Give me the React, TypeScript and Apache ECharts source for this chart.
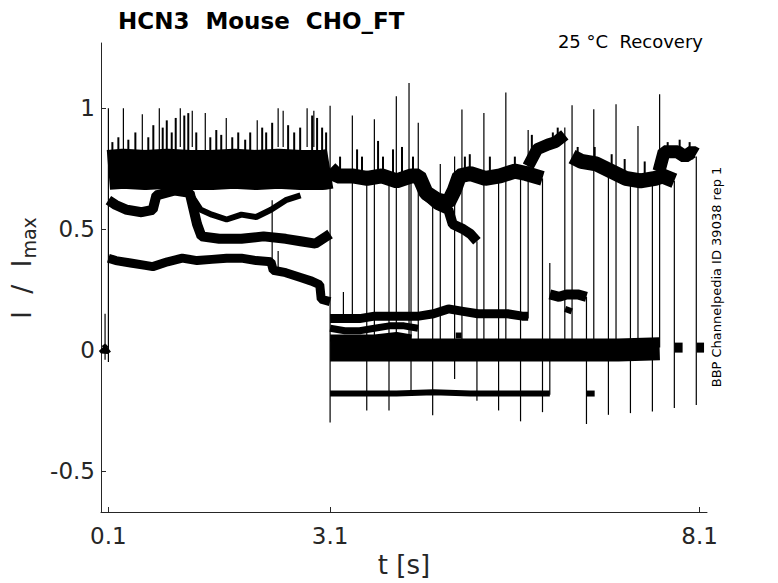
import React, { useEffect, useRef } from "react";
import * as echarts from "echarts";

// ---------- text ----------
const titleText = "HCN3  Mouse  CHO_FT";
const conditionText = "25 °C  Recovery";
const sideText = "BBP Channelpedia ID 39038 rep 1";
const xName = "t [s]";
const yNameMain = "I  /  I";
const yNameSub = "max";

// ---------- ticks ----------
const xTicks = [0.1, 3.1, 8.1];
const yTicks = [-0.5, 0, 0.5, 1];

// ---------- traces [t, I/Imax] ----------
const preBaseline = [[0.02, 0.01], [0.05, 0.0], [0.095, 0.01]];

const band1Core = [
  [0.1, 0.745], [0.3, 0.75], [0.6, 0.745], [0.9, 0.75], [1.2, 0.745], [1.5, 0.745],
  [1.8, 0.75], [2.1, 0.745], [2.4, 0.75], [2.7, 0.745], [3.0, 0.745], [3.1, 0.75],
];
const traceB = [
  [0.1, 0.62], [0.2, 0.6], [0.35, 0.58], [0.55, 0.57], [0.7, 0.58], [0.75, 0.64],
  [1.0, 0.66], [1.2, 0.65], [1.3, 0.52], [1.36, 0.47], [1.6, 0.46], [1.9, 0.46],
  [2.2, 0.47], [2.5, 0.46], [2.7, 0.45], [2.9, 0.44], [3.05, 0.47], [3.1, 0.48],
];
const traceC = [
  [1.2, 0.65], [1.35, 0.58], [1.5, 0.56], [1.7, 0.54], [1.9, 0.56], [2.1, 0.55],
  [2.3, 0.58], [2.5, 0.62], [2.7, 0.64],
];
const traceD = [
  [0.1, 0.38], [0.2, 0.37], [0.4, 0.36], [0.6, 0.35], [0.7, 0.345], [0.9, 0.365],
  [1.1, 0.38], [1.3, 0.37], [1.5, 0.375], [1.7, 0.38], [1.9, 0.38], [2.1, 0.37],
  [2.3, 0.365], [2.33, 0.33], [2.5, 0.32], [2.7, 0.3], [2.85, 0.285], [2.96, 0.27],
  [2.98, 0.21], [3.1, 0.2],
];

const upper1 = [
  [3.1, 0.75], [3.2, 0.72], [3.4, 0.72], [3.6, 0.71], [3.8, 0.72], [4.0, 0.7],
  [4.2, 0.72], [4.3, 0.72], [4.4, 0.65], [4.55, 0.62], [4.7, 0.61], [4.78, 0.66],
  [4.85, 0.72], [5.0, 0.73], [5.2, 0.71], [5.4, 0.72], [5.6, 0.74], [5.75, 0.73],
  [5.974, 0.71],
];
const upper2 = [
  [4.4, 0.64], [4.55, 0.6], [4.7, 0.58], [4.76, 0.52], [4.9, 0.5], [5.0, 0.48], [5.087, 0.45],
];
const upper3 = [[5.78, 0.76], [5.9, 0.83], [6.05, 0.85], [6.15, 0.86], [6.276, 0.89]];
const upper4 = [
  [6.374, 0.8], [6.5, 0.78], [6.7, 0.77], [6.9, 0.74], [7.1, 0.71], [7.3, 0.7],
  [7.5, 0.71], [7.6, 0.72], [7.758, 0.7],
];
const upper5 = [[7.55, 0.74], [7.62, 0.82], [7.8, 0.82], [7.9, 0.8], [8.0, 0.82], [8.055, 0.81]];

const level15 = [
  [3.1, 0.13], [3.3, 0.13], [3.5, 0.13], [3.7, 0.14], [3.9, 0.14], [4.1, 0.14],
  [4.3, 0.14], [4.5, 0.15], [4.7, 0.17], [4.9, 0.16], [5.1, 0.15], [5.3, 0.15],
  [5.5, 0.15], [5.7, 0.14], [5.78, 0.14],
];
const level09 = [[3.1, 0.09], [3.3, 0.08], [3.5, 0.08], [3.7, 0.09], [3.9, 0.1], [4.1, 0.1], [4.29, 0.09]];
const level05 = [[3.1, 0.05], [3.4, 0.05], [3.7, 0.05], [4.0, 0.06], [4.2, 0.05]];
const level05b = [[4.8, 0.06], [4.88, 0.06]];
const level00 = [
  [3.1, 0.0], [3.5, 0.0], [4.0, 0.0], [4.5, 0.0], [5.0, 0.0], [5.5, 0.0],
  [6.0, 0.0], [6.5, 0.0], [7.0, 0.0], [7.559, 0.005],
];
const level00b = [[7.76, 0.01], [7.87, 0.01]];
const level00c = [[8.06, 0.01], [8.16, 0.01]];
const levelNeg18 = [
  [3.1, -0.18], [3.5, -0.18], [4.0, -0.18], [4.5, -0.175], [5.0, -0.18], [5.5, -0.18], [6.073, -0.18],
];
const levelNeg18b = [[6.57, -0.18], [6.68, -0.18]];
const level23 = [[6.073, 0.23], [6.2, 0.22], [6.3, 0.23], [6.45, 0.23], [6.569, 0.22]];
const level17 = [[6.28, 0.17], [6.37, 0.16]];

// ---------- noise peaks [t, top, base] ----------
const noisePeaks = [
  [0.154, 0.86, 0.8], [0.235, 0.88, 0.8], [0.370, 0.87, 0.8], [0.465, 0.9, 0.8],
  [0.640, 0.88, 0.8], [0.708, 0.93, 0.8], [0.835, 0.92, 0.8], [0.89, 0.95, 0.8],
  [0.957, 0.9, 0.8], [1.011, 0.96, 0.8], [1.127, 0.97, 0.8], [1.181, 0.98, 0.8],
  [1.289, 0.9, 0.8], [1.479, 0.88, 0.8], [1.560, 0.91, 0.8], [1.627, 0.89, 0.8],
  [1.776, 0.88, 0.8], [1.857, 0.9, 0.8], [1.951, 0.87, 0.8], [2.019, 0.9, 0.8],
  [2.181, 0.92, 0.8], [2.235, 0.9, 0.8], [2.316, 0.94, 0.8], [2.532, 0.93, 0.8],
  [2.614, 0.9, 0.8], [2.695, 0.92, 0.8], [2.857, 0.97, 0.8], [2.924, 0.96, 0.8],
  [2.992, 0.92, 0.8], [3.046, 0.9, 0.8],
  [3.235, 0.8, 0.72], [3.465, 0.83, 0.72], [3.532, 0.8, 0.72], [3.749, 0.865, 0.72],
  [3.816, 0.8, 0.72], [3.951, 0.83, 0.72], [4.073, 0.84, 0.72], [4.222, 0.8, 0.72],
  [4.924, 0.8, 0.72], [4.99, 0.81, 0.72], [5.262, 0.8, 0.72], [5.6, 0.8, 0.74],
  [5.83, 0.89, 0.8], [6.114, 0.9, 0.85], [6.18, 0.92, 0.86], [6.45, 0.84, 0.78],
  [6.68, 0.84, 0.77], [6.91, 0.81, 0.74], [7.086, 0.79, 0.71], [7.357, 0.78, 0.7],
  [7.668, 0.86, 0.82], [7.83, 0.87, 0.82], [7.965, 0.86, 0.8],
];

// ---------- transients [t, top, bottom] ----------
const spikes = [
  [0.055, 0.15, -0.04], [0.1, 1.0, -0.05], [0.303, 1.0, 0.82], [0.559, 0.975, 0.82],
  [0.789, 1.0, 0.82], [1.073, 1.0, 0.84], [1.235, 0.99, 0.84], [1.411, 0.98, 0.82],
  [1.695, 0.96, 0.82], [2.114, 0.95, 0.82], [2.316, 0.62, 0.33], [2.397, 1.0, 0.84],
  [2.397, 0.41, 0.33], [2.465, 0.99, 0.84], [2.789, 1.0, 0.84], [2.88, 0.99, 0.84],
  [3.1, 1.01, -0.3], [3.28, 0.24, 0.14], [3.401, 0.97, 0.14], [3.596, 0.72, -0.25],
  [3.699, 0.955, 0.06], [3.897, 0.72, -0.25], [3.996, 1.05, 0.03], [4.168, 1.105, 0.03],
  [4.195, 0.71, -0.17], [4.293, 0.94, 0.03], [4.488, 0.61, -0.27], [4.591, 0.77, 0.0],
  [4.785, 0.8, -0.12], [4.884, 0.995, 0.0], [5.087, 0.45, -0.21], [5.181, 0.98, 0.0],
  [5.38, 0.72, -0.25], [5.478, 1.065, 0.0], [5.677, 0.72, -0.295], [5.78, 0.91, 0.13],
  [5.974, 0.71, -0.257], [6.073, 0.36, -0.185], [6.276, 0.92, 0.0], [6.374, 1.013, 0.0],
  [6.569, 0.22, -0.306], [6.668, 0.996, 0.0], [6.866, 0.75, -0.268], [6.969, 1.017, 0.0],
  [7.164, 0.71, -0.261], [7.266, 0.927, 0.0], [7.461, 0.7, -0.254], [7.559, 1.058, 0.01],
  [7.758, 0.7, -0.24], [8.055, 0.8, -0.227],
];

const traces: [number[][], number][] = [
  [preBaseline, 10], [band1Core, 40], [traceB, 10], [traceC, 6], [traceD, 9],
  [upper1, 15], [upper2, 10], [upper3, 12], [upper4, 15], [upper5, 13],
  [level15, 9], [level09, 7], [level05, 7], [level05b, 6], [level00, 23], [level00b, 10],
  [level00c, 10], [levelNeg18, 6], [levelNeg18b, 6], [level23, 10], [level17, 6],
];

const FONT = "DejaVu Sans";
const AX = "#262626";

function vlineSeries(data: number[][], width: number) {
  return {
    type: "custom",
    data,
    encode: { x: 0, y: [1, 2] },
    silent: true,
    renderItem: (_p: any, api: any) => {
      const a = api.coord([api.value(0), api.value(1)]);
      const b = api.coord([api.value(0), api.value(2)]);
      return {
        type: "line",
        shape: { x1: a[0], y1: a[1], x2: b[0], y2: b[1] },
        style: { stroke: "#000", lineWidth: width },
      };
    },
  };
}

export default function App() {
  const ref = useRef<HTMLDivElement>(null);
  useEffect(() => {
    document.body.style.margin = "0";
    const chart = echarts.init(ref.current!, null, { renderer: "svg" });
    const series: any[] = traces.map(([d, w]) => ({
      type: "line",
      data: d,
      showSymbol: false,
      symbol: "none",
      silent: true,
      lineStyle: { color: "#000", width: w },
    }));
    series.push(vlineSeries(noisePeaks, 2));
    series.push(vlineSeries(spikes, 1.2));
    chart.setOption({
      animation: false,
      textStyle: { fontFamily: FONT },
      title: {
        text: titleText,
        left: 113,
        top: 4,
        textStyle: { fontSize: 23, fontWeight: "bold", color: "#000", fontFamily: FONT },
      },
      grid: { left: 101, top: 43, right: 71, bottom: 70 },
      xAxis: {
        type: "value",
        min: 0,
        max: 8.2,
        name: xName,
        nameLocation: "middle",
        nameGap: 40,
        nameTextStyle: { fontSize: 26, color: AX, fontFamily: FONT },
        axisLine: { onZero: false, lineStyle: { color: AX } },
        axisTick: { inside: true, length: 5, customValues: xTicks, lineStyle: { color: AX } },
        axisLabel: { customValues: xTicks, fontSize: 23, color: AX, margin: 12, fontFamily: FONT },
        splitLine: { show: false },
      },
      yAxis: {
        type: "value",
        min: -0.67,
        max: 1.27,
        axisLine: { show: true, onZero: false, lineStyle: { color: AX } },
        axisTick: { show: true, inside: true, length: 5, customValues: yTicks, lineStyle: { color: AX } },
        axisLabel: { customValues: yTicks, fontSize: 23, color: AX, margin: 6, fontFamily: FONT },
        splitLine: { show: false },
      },
      graphic: [
        {
          type: "text",
          x: 703,
          y: 41,
          style: { text: conditionText, fontSize: 18, fill: "#000", align: "right", verticalAlign: "middle", fontFamily: FONT },
        },
        {
          type: "text",
          x: 716,
          y: 277,
          rotation: Math.PI / 2,
          style: { text: sideText, fontSize: 13, fill: "#000", align: "center", verticalAlign: "middle", fontFamily: FONT },
        },
        {
          type: "text",
          x: 21,
          y: 268,
          rotation: Math.PI / 2,
          style: {
            text: "{a|" + yNameMain + "}{b|" + yNameSub + "}",
            align: "center",
            verticalAlign: "middle",
            fill: AX,
            fontFamily: FONT,
            rich: {
              a: { fontSize: 27, fill: AX, fontFamily: FONT },
              b: { fontSize: 19, fill: AX, fontFamily: FONT, padding: [16, 0, 0, 1] },
            },
          },
        },
      ],
      series,
    });
    return () => chart.dispose();
  }, []);
  return <div ref={ref} style={{ width: 778, height: 583 }} />;
}
